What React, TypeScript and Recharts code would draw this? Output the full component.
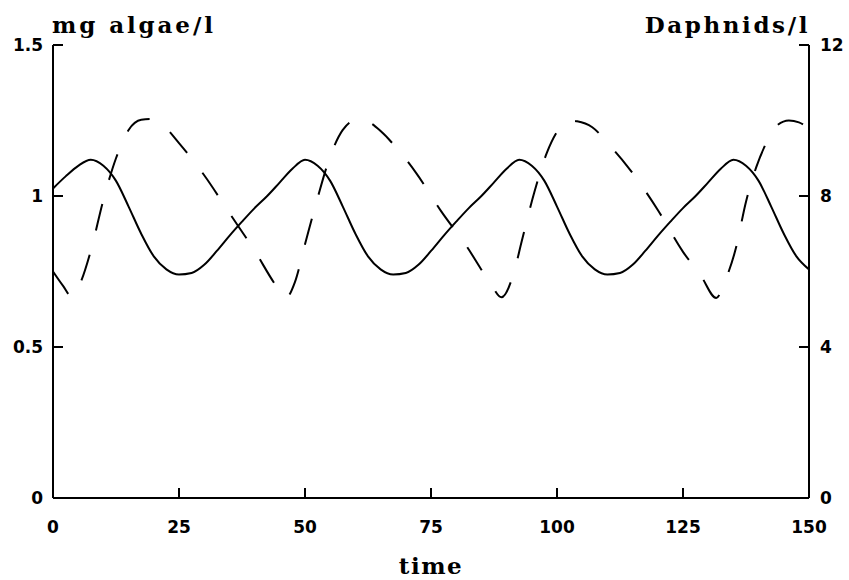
import React from 'react';
import { LineChart, Line, XAxis, YAxis } from 'recharts';

const timeTicks = [0, 25, 50, 75, 100, 125, 150];
const algaeTicks = [0, 0.5, 1, 1.5];
const daphTicks = [0, 4, 8, 12];

const algaeTime = [
  0, 2.5, 5, 7.5, 10, 12.5, 15, 17.5, 20, 22.5, 25, 27.5, 30, 32.5, 35, 37.5, 40, 42.5, 45, 47.5,
  50, 52.5, 55, 57.5, 60, 62.5, 65, 67.5, 70, 72.5, 75, 77.5, 80, 82.5, 85, 87.5, 90, 92.5, 95, 97.5,
  100, 102.5, 105, 107.5, 110, 112.5, 115, 117.5, 120, 122.5, 125, 127.5, 130, 132.5, 135, 137.5,
  140, 142.5, 145, 147.5, 150,
];
const algaeValues = [
  1.025, 1.065, 1.1, 1.12, 1.1, 1.05, 0.965, 0.875, 0.8, 0.757, 0.74, 0.745, 0.772, 0.818, 0.868, 0.915, 0.96, 1.0, 1.045, 1.09,
  1.12, 1.1, 1.05, 0.965, 0.875, 0.8, 0.757, 0.74, 0.745, 0.772, 0.818, 0.868, 0.915, 0.96, 1.0, 1.045, 1.09, 1.12, 1.1, 1.05,
  0.965, 0.875, 0.8, 0.757, 0.74, 0.745, 0.772, 0.818, 0.868, 0.915, 0.96, 1.0, 1.045, 1.09, 1.12, 1.1,
  1.05, 0.965, 0.875, 0.8, 0.757,
];

const daphTime = [
  0, 2, 3.8, 5.5, 7.5, 10, 12.5, 15, 17.5, 19.5, 22, 25, 30, 35, 40, 44.5,
  46.2, 48, 50, 52.5, 55, 57.5, 60.5, 62.5, 65, 68.5, 72, 77, 82, 86.6,
  89, 91.5, 93, 95.5, 98, 100, 102.3, 104, 107, 110.5, 114, 120, 125, 128.5,
  131.6, 133.5, 135.5, 137.5, 139.5, 141.5, 143.5, 146, 148, 150,
];
const daphValues = [
  6.0, 5.62, 5.32, 5.72, 6.55, 7.9, 9.0, 9.75, 10.02, 10.04, 9.85, 9.4, 8.55, 7.55, 6.55, 5.58,
  5.3, 5.72, 6.72, 7.95, 9.05, 9.75, 10.03, 9.97, 9.72, 9.22, 8.62, 7.6, 6.68, 5.73,
  5.32, 6.0, 6.8, 8.1, 9.15, 9.7, 10.0, 9.98, 9.82, 9.33, 8.78, 7.63, 6.52, 5.9,
  5.3, 5.8, 6.62, 7.85, 8.75, 9.4, 9.85, 10.0, 9.95, 9.79,
];

const algaeData = algaeTime.map((t, i) => ({ t, algae: algaeValues[i] }));
const daphData = daphTime.map((t, i) => ({ t, daph: daphValues[i] }));

const TICK_FONT = '"DejaVu Sans", sans-serif';
const LABEL_FONT = '"DejaVu Serif", serif';
const TL = 10;
const TICK_COLOR = '#000';

const tickStyle = { fontFamily: TICK_FONT, fontWeight: 'bold' as const, fontSize: 17, fill: '#000' };
const lineStyle = { stroke: '#000', strokeWidth: 2 };

const LeftTick = (props: any) => (
  <g>
    <path d={`M${props.x},${props.y}h${TL}`} stroke={TICK_COLOR} strokeWidth={2} fill="none" />
    <text x={props.x - 10} y={props.y} dy={6} textAnchor="end" {...tickStyle}>
      {String(props.payload.value)}
    </text>
  </g>
);
const RightTick = (props: any) => (
  <g>
    <path d={`M${props.x},${props.y}h${-TL}`} stroke={TICK_COLOR} strokeWidth={2} fill="none" />
    <text x={props.x + 11} y={props.y} dy={6} textAnchor="start" {...tickStyle}>
      {String(props.payload.value)}
    </text>
  </g>
);
const BottomTick = (props: any) => (
  <g>
    <path d={`M${props.x},${props.y}v${-TL}`} stroke={TICK_COLOR} strokeWidth={2} fill="none" />
    <text x={props.x} y={props.y} dy={35} textAnchor="middle" {...tickStyle}>
      {String(props.payload.value)}
    </text>
  </g>
);

const leftTitle = (p: any) => {
  const vb = p.viewBox;
  return (
    <text x={vb.x + vb.width - 1} y={vb.y - 12} textAnchor="start" fontFamily={LABEL_FONT} fontWeight="bold" fontSize={23} letterSpacing={2.9} fill="#000">
      mg algae/l
    </text>
  );
};

const rightTitle = (p: any) => {
  const vb = p.viewBox;
  return (
    <text x={vb.x + 1} y={vb.y - 12} textAnchor="end" fontFamily={LABEL_FONT} fontWeight="bold" fontSize={23} letterSpacing={2.6} fill="#000">
      Daphnids/l
    </text>
  );
};

const timeLabel = (p: any) => {
  const vb = p.viewBox;
  return (
    <text x={vb.x + vb.width / 2} y={vb.y + 76} textAnchor="middle" fontFamily={LABEL_FONT} fontWeight="bold" fontSize={23} letterSpacing={1.5} fill="#000">
      time
    </text>
  );
};

export default function App() {
  return (
    <div style={{ position: 'absolute', left: 0, top: 0, width: 849, height: 580, background: '#fff' }}>
      <LineChart width={849} height={580} margin={{ top: 45, right: 1, bottom: 52, left: 8 }}>
        <XAxis
          dataKey="t"
          type="number"
          domain={[0, 150]}
          ticks={timeTicks}
          allowDataOverflow
          height={30}
          tickSize={0}
          tickMargin={0}
          tickLine={false}
          axisLine={lineStyle}
          tick={<BottomTick />}
          label={timeLabel}
        />
        <YAxis
          yAxisId="left"
          orientation="left"
          domain={[0, 1.5]}
          ticks={algaeTicks}
          width={45}
          tickSize={0}
          tickMargin={0}
          tickLine={false}
          axisLine={lineStyle}
          tick={<LeftTick />}
          label={leftTitle}
        />
        <YAxis
          yAxisId="right"
          orientation="right"
          domain={[0, 12]}
          ticks={daphTicks}
          width={39}
          tickSize={0}
          tickMargin={0}
          tickLine={false}
          axisLine={lineStyle}
          tick={<RightTick />}
          label={rightTitle}
        />
        <Line
          yAxisId="left"
          data={algaeData}
          dataKey="algae"
          type="monotone"
          stroke="#000"
          strokeWidth={2}
          dot={false}
          activeDot={false}
          isAnimationActive={false}
        />
        <Line
          yAxisId="right"
          data={daphData}
          dataKey="daph"
          type="monotone"
          stroke="#000"
          strokeWidth={2}
          strokeDasharray="27 25"
          dot={false}
          activeDot={false}
          isAnimationActive={false}
        />
      </LineChart>
    </div>
  );
}
